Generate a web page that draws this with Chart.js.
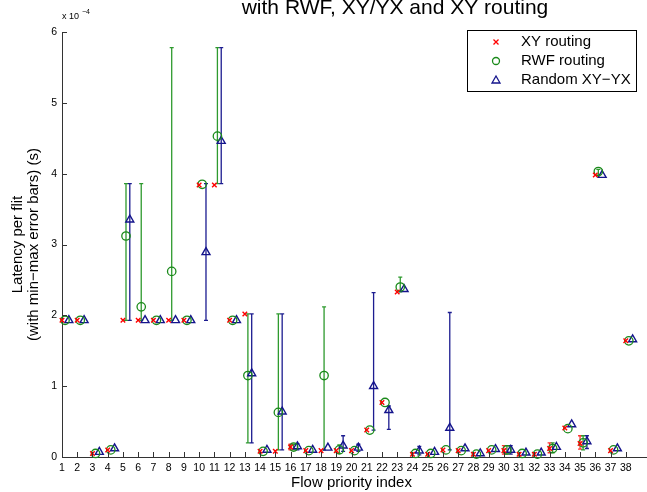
<!DOCTYPE html>
<html>
<head>
<meta charset="utf-8">
<script src="https://cdn.jsdelivr.net/npm/chart.js@4.4.1/dist/chart.umd.min.js"></script>
<style>
html,body{margin:0;padding:0;background:#fff;}
#wrap{width:647px;height:492px;position:relative;}
</style>
</head>
<body>
<div id="wrap"><canvas id="c" width="647" height="492"></canvas></div>
<script>
// ---- data (latency per flit, units of 1e-4 s) ----
const categories = [1,2,3,4,5,6,7,8,9,10,11,12,13,14,15,16,17,18,19,20,21,22,23,24,25,26,27,28,29,30,31,32,33,34,35,36,37,38];

const xyVal = [1.93,1.93,0.05,0.10,1.93,1.93,1.93,1.93,1.93,3.84,3.84,1.93,2.02,0.08,0.08,0.14,0.09,0.09,0.09,0.09,0.38,0.77,2.33,0.04,0.04,0.10,0.09,0.04,0.09,0.09,0.04,0.04,0.12,0.41,0.19,3.98,0.09,1.64];
const xyLo  = [1.93,1.93,0.05,0.10,1.93,1.93,1.93,1.93,1.93,3.84,3.84,1.93,2.02,0.08,0.08,0.10,0.09,0.09,0.09,0.09,0.38,0.77,2.33,0.04,0.04,0.10,0.09,0.04,0.09,0.04,0.04,0.04,0.06,0.41,0.11,3.98,0.09,1.64];
const xyHi  = [1.93,1.93,0.05,0.10,1.93,1.93,1.93,1.93,1.93,3.84,3.84,1.93,2.02,0.08,0.08,0.18,0.09,0.09,0.09,0.09,0.38,0.77,2.33,0.04,0.04,0.10,0.09,0.04,0.09,0.16,0.04,0.04,0.20,0.41,0.30,3.98,0.09,1.64];

const rwfVal = [1.93,1.93,0.05,0.10,3.12,2.12,1.93,2.62,1.93,3.85,4.53,1.93,1.15,0.08,0.63,0.14,0.09,1.15,0.10,0.09,0.38,0.77,2.40,0.05,0.05,0.10,0.09,0.04,0.10,0.10,0.05,0.04,0.12,0.40,0.20,4.03,0.10,1.64];
const rwfLo  = [1.93,1.93,0.05,0.10,1.93,1.93,1.93,1.93,1.93,3.85,3.86,1.93,0.20,0.08,0.10,0.10,0.09,0.10,0.05,0.09,0.38,0.77,2.33,0.05,0.05,0.10,0.09,0.04,0.10,0.04,0.05,0.04,0.06,0.40,0.10,3.98,0.10,1.64];
const rwfHi  = [1.93,1.93,0.05,0.10,3.86,3.86,1.93,5.78,1.93,3.85,5.78,1.93,2.02,0.08,2.02,0.18,0.09,2.12,0.17,0.09,0.38,0.77,2.54,0.05,0.05,0.10,0.09,0.04,0.10,0.16,0.05,0.04,0.20,0.40,0.30,4.06,0.10,1.64];

const rndVal = [1.93,1.93,0.07,0.12,3.35,1.93,1.93,1.93,1.93,2.89,4.46,1.93,1.18,0.10,0.64,0.15,0.10,0.13,0.16,0.13,1.00,0.66,2.37,0.09,0.07,0.41,0.12,0.05,0.11,0.10,0.06,0.06,0.14,0.46,0.22,3.98,0.12,1.66];
const rndLo  = [1.93,1.93,0.07,0.12,1.93,1.93,1.93,1.93,1.93,1.93,3.86,1.93,0.20,0.10,0.10,0.10,0.10,0.13,0.08,0.08,0.38,0.39,2.37,0.03,0.07,0.10,0.12,0.05,0.11,0.04,0.06,0.06,0.14,0.46,0.12,3.98,0.12,1.66];
const rndHi  = [1.93,1.93,0.07,0.12,3.86,1.93,1.93,1.93,1.93,3.86,5.78,1.93,2.02,0.10,2.02,0.19,0.10,0.13,0.30,0.18,2.32,0.72,2.37,0.15,0.07,2.04,0.12,0.05,0.11,0.16,0.06,0.06,0.14,0.46,0.30,3.98,0.12,1.66];

const seriesNames = ['XY routing','RWF routing','Random XY\u2212YX'];
const yTickLabels = ['0','1','2','3','4','5','6'];
const titleText = 'with RWF, XY/YX and XY routing';
const xTitle = 'Flow priority index';
const yTitleLines = ['Latency per flit','(with min\u2212max error bars) (s)'];

// ---- build datasets ----
const offsets = [0, 0.2, 0.45];
function pts(vals, lo, hi, off){
  return categories.map((c,i)=>({x:c+off, y:vals[i], lo:lo[i], hi:hi[i]}));
}
const RED='#ff0000', GREEN='#1a8a1a', BLUE='#14148c';
const datasets = [
  {label:seriesNames[0], data:pts(xyVal,xyLo,xyHi,offsets[0]), pointStyle:'crossRot', pointRadius:3.2, borderColor:RED, backgroundColor:RED, pointBorderWidth:1.4, barColor:'#ff3030', clip:false},
  {label:seriesNames[1], data:pts(rwfVal,rwfLo,rwfHi,offsets[1]), pointStyle:'circle', pointRadius:4.2, borderColor:GREEN, backgroundColor:'rgba(0,0,0,0)', pointBorderWidth:1.3, barColor:'#2e9a2e', clip:false},
  {label:seriesNames[2], data:pts(rndVal,rndLo,rndHi,offsets[2]), pointStyle:'triangle', pointRadius:4.6, borderColor:BLUE, backgroundColor:'rgba(0,0,0,0)', pointBorderWidth:1.4, barColor:'#1c1c90', clip:false}
];

const FONT = '"Liberation Sans", Arial, Helvetica, sans-serif';

const errorBars = {
  id:'errorBars',
  beforeDatasetsDraw(chart){
    const {ctx, scales:{x,y}} = chart;
    ctx.save();
    chart.data.datasets.forEach(ds=>{
      ctx.strokeStyle = ds.barColor; ctx.lineWidth = 1.3;
      ds.data.forEach(p=>{
        if (p.hi - p.lo < 1e-9) return;
        const px = x.getPixelForValue(p.x);
        const y1 = y.getPixelForValue(p.lo), y2 = y.getPixelForValue(p.hi);
        ctx.beginPath();
        ctx.moveTo(px,y1); ctx.lineTo(px,y2);
        ctx.moveTo(px-2,y1); ctx.lineTo(px+2,y1);
        ctx.moveTo(px-2,y2); ctx.lineTo(px+2,y2);
        ctx.stroke();
      });
    });
    ctx.restore();
  }
};

const deco = {
  id:'deco',
  afterDraw(chart){
    const {ctx, chartArea:a, scales:{x,y}} = chart;
    ctx.save();
    // extend bottom axis line to the edge of the picture
    ctx.strokeStyle='#333'; ctx.lineWidth=1;
    ctx.beginPath();
    const by=Math.round(a.bottom)+0.5;
    ctx.moveTo(a.right-1,by); ctx.lineTo(chart.width,by);
    // inward ticks
    x.ticks.forEach(t=>{const px=Math.round(x.getPixelForValue(t.value))+0.5; ctx.moveTo(px,a.bottom); ctx.lineTo(px,a.bottom-5);});
    y.ticks.forEach(t=>{const py=Math.round(y.getPixelForValue(t.value))+0.5; ctx.moveTo(a.left,py); ctx.lineTo(a.left+5,py);});
    ctx.stroke();
    // title
    ctx.fillStyle='#000';
    ctx.font='21px '+FONT; ctx.textAlign='center'; ctx.textBaseline='alphabetic';
    ctx.fillText(titleText, 395, 14);
    // exponent
    ctx.textAlign='left';
    ctx.font='9px '+FONT; ctx.fillText('x 10', 62, 19);
    ctx.font='7px '+FONT; ctx.fillText('\u22124', 82, 14);
    // legend
    const L={x:467,y:30,w:169,h:61};
    ctx.fillStyle='#fff'; ctx.fillRect(L.x,L.y,L.w,L.h);
    ctx.strokeStyle='#000'; ctx.lineWidth=1;
    ctx.strokeRect(L.x+0.5,L.y+0.5,L.w,L.h);
    const rows=[42,61,80];
    chart.data.datasets.forEach((ds,i)=>{
      const cy=rows[i], cx=496;
      ctx.strokeStyle=ds.borderColor; ctx.lineWidth=1.3;
      ctx.beginPath();
      if(ds.pointStyle==='crossRot'){ctx.moveTo(cx-2.5,cy-2.5);ctx.lineTo(cx+2.5,cy+2.5);ctx.moveTo(cx+2.5,cy-2.5);ctx.lineTo(cx-2.5,cy+2.5);}
      else if(ds.pointStyle==='circle'){ctx.arc(cx,cy,3.5,0,Math.PI*2);}
      else {ctx.moveTo(cx,cy-4);ctx.lineTo(cx+4,cy+3);ctx.lineTo(cx-4,cy+3);ctx.closePath();}
      ctx.stroke();
      ctx.fillStyle='#000'; ctx.font='15px '+FONT; ctx.textAlign='left'; ctx.textBaseline='middle';
      ctx.fillText(ds.label, 521, cy);
    });
    ctx.restore();
  }
};

new Chart(document.getElementById('c'), {
  type:'scatter',
  data:{datasets},
  options:{
    responsive:false, animation:false,
    layout:{padding:{top:32,right:6,left:0,bottom:0}},
    plugins:{legend:{display:false}, tooltip:{enabled:false}, title:{display:false}},
    scales:{
      x:{type:'linear', min:1, max:39,
        afterBuildTicks(s){ s.ticks = categories.map(v=>({value:v})); },
        afterFit(s){ s.height = 35; },
        grid:{display:false, drawTicks:false},
        border:{display:true, color:'#333', width:1},
        ticks:{autoSkip:false, maxRotation:0, padding:5, color:'#000', font:{family:FONT, size:10.5}, callback:(v)=>String(v)},
        title:{display:true, text:xTitle, color:'#000', font:{family:FONT, size:15}, padding:{top:0,bottom:0}}
      },
      y:{type:'linear', min:0, max:6,
        afterBuildTicks(s){ s.ticks = yTickLabels.map((t,i)=>({value:i})); },
        afterFit(s){ s.width = 62; },
        grid:{display:false, drawTicks:false},
        border:{display:true, color:'#333', width:1},
        ticks:{padding:5, color:'#000', font:{family:FONT, size:10.5}, callback:(v)=>yTickLabels[v]},
        title:{display:true, text:yTitleLines, color:'#000', font:{family:FONT, size:15, lineHeight:1.05}, padding:{top:10,bottom:0}}
      }
    }
  },
  plugins:[errorBars, deco]
});
</script>
</body>
</html>
